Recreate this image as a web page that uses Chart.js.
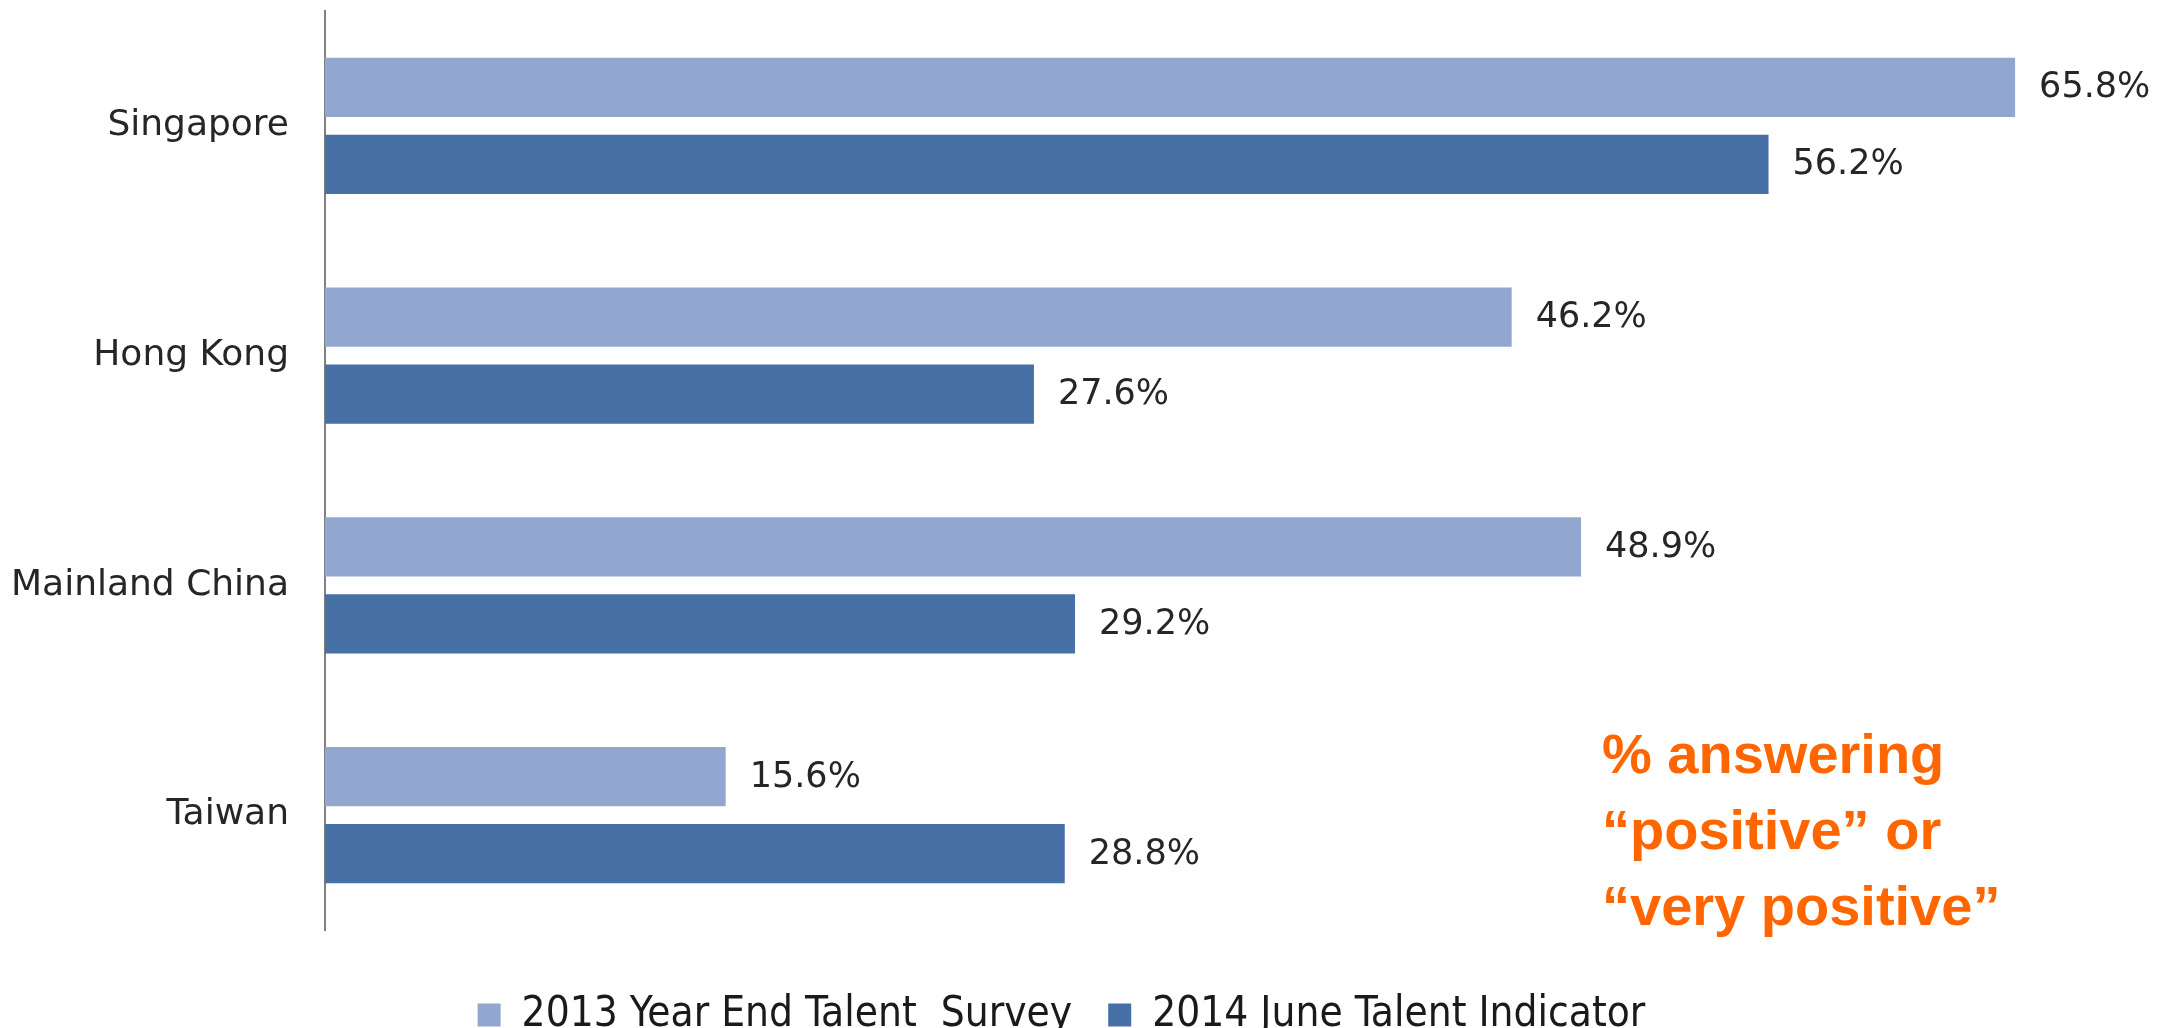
<!DOCTYPE html>
<html>
<head>
<meta charset="utf-8">
<script src="https://cdn.jsdelivr.net/npm/chart.js@4"></script>
<style>
    html, body { margin: 0; padding: 0; background: #fff; }
    #wrap { width: 2165px; height: 1028px; }
</style>
</head>
<body>
<div id="wrap"><canvas id="talentChart"></canvas></div>
<script>
const regions = ["Singapore", "Hong Kong", "Mainland China", "Taiwan"];
const survey2013 = [65.8, 46.2, 48.9, 15.6];
const indicator2014 = [56.2, 27.6, 29.2, 28.8];
const seriesNames = ["2013 Year End Talent  Survey", "2014 June Talent Indicator"];
const noteLines = ["% answering", "\u201Cpositive\u201D or", "\u201Cvery positive\u201D"];

// value printed just past the end of each bar
const barValues = {
    id: 'barValues',
    afterDatasetsDraw(chart) {
        const ctx = chart.ctx;
        ctx.save();
        ctx.font = '35px "DejaVu Sans"';
        ctx.fillStyle = '#262626';
        ctx.textAlign = 'left';
        ctx.textBaseline = 'middle';
        chart.data.datasets.forEach((ds, i) => {
            chart.getDatasetMeta(i).data.forEach((bar, j) => {
                ctx.fillText(ds.data[j].toFixed(1) + '%', bar.x + 24, bar.y + 1);
            });
        });
        ctx.restore();
    }
};

// orange note in the lower right
const sideNote = {
    id: 'sideNote',
    afterDraw(chart) {
        const ctx = chart.ctx;
        ctx.save();
        ctx.font = 'bold 56px "Liberation Sans", Arial, sans-serif';
        ctx.fillStyle = '#ff6600';
        ctx.textAlign = 'left';
        ctx.textBaseline = 'alphabetic';
        noteLines.forEach((line, i) => {
            ctx.fillText(line, 1602, 773 + i * 76);
        });
        ctx.restore();
    }
};

new Chart(document.getElementById('talentChart'), {
    type: 'bar',
    data: {
        labels: regions,
        datasets: [{
            label: seriesNames[0],
            data: survey2013,
            backgroundColor: '#92a7d0',
            categoryPercentage: 0.67,
            barPercentage: 0.77
        }, {
            label: seriesNames[1],
            data: indicator2014,
            backgroundColor: '#4670a6',
            categoryPercentage: 0.67,
            barPercentage: 0.77
        }]
    },
    options: {
        indexAxis: 'y',
        responsive: true,
        maintainAspectRatio: false,
        animation: false,
        layout: { padding: { top: 11, right: 42, left: 0, bottom: -18 } },
        scales: {
            x: {
                min: 0,
                max: 70,
                grid: { display: false, drawTicks: false },
                border: { display: false },
                ticks: { display: false },
                afterFit(scale) { scale.height = 28; }
            },
            y: {
                grid: { display: false, drawTicks: false },
                border: { display: true, color: '#808080', width: 2 },
                ticks: {
                    padding: 36,
                    color: '#262626',
                    font: { family: '"DejaVu Sans"', size: 36 }
                },
                afterFit(scale) {
                    scale.width = 325;
                    scale.paddingTop = 0;
                    scale.paddingBottom = 0;
                }
            }
        },
        plugins: {
            tooltip: { enabled: false },
            legend: {
                position: 'bottom',
                labels: {
                    boxWidth: 23,
                    boxHeight: 23,
                    padding: 36,
                    color: '#1a1a1a',
                    font: { family: '"DejaVu Sans Condensed", "DejaVu Sans"', size: 42 }
                }
            }
        }
    },
    plugins: [barValues, sideNote]
});
</script>
</body>
</html>
